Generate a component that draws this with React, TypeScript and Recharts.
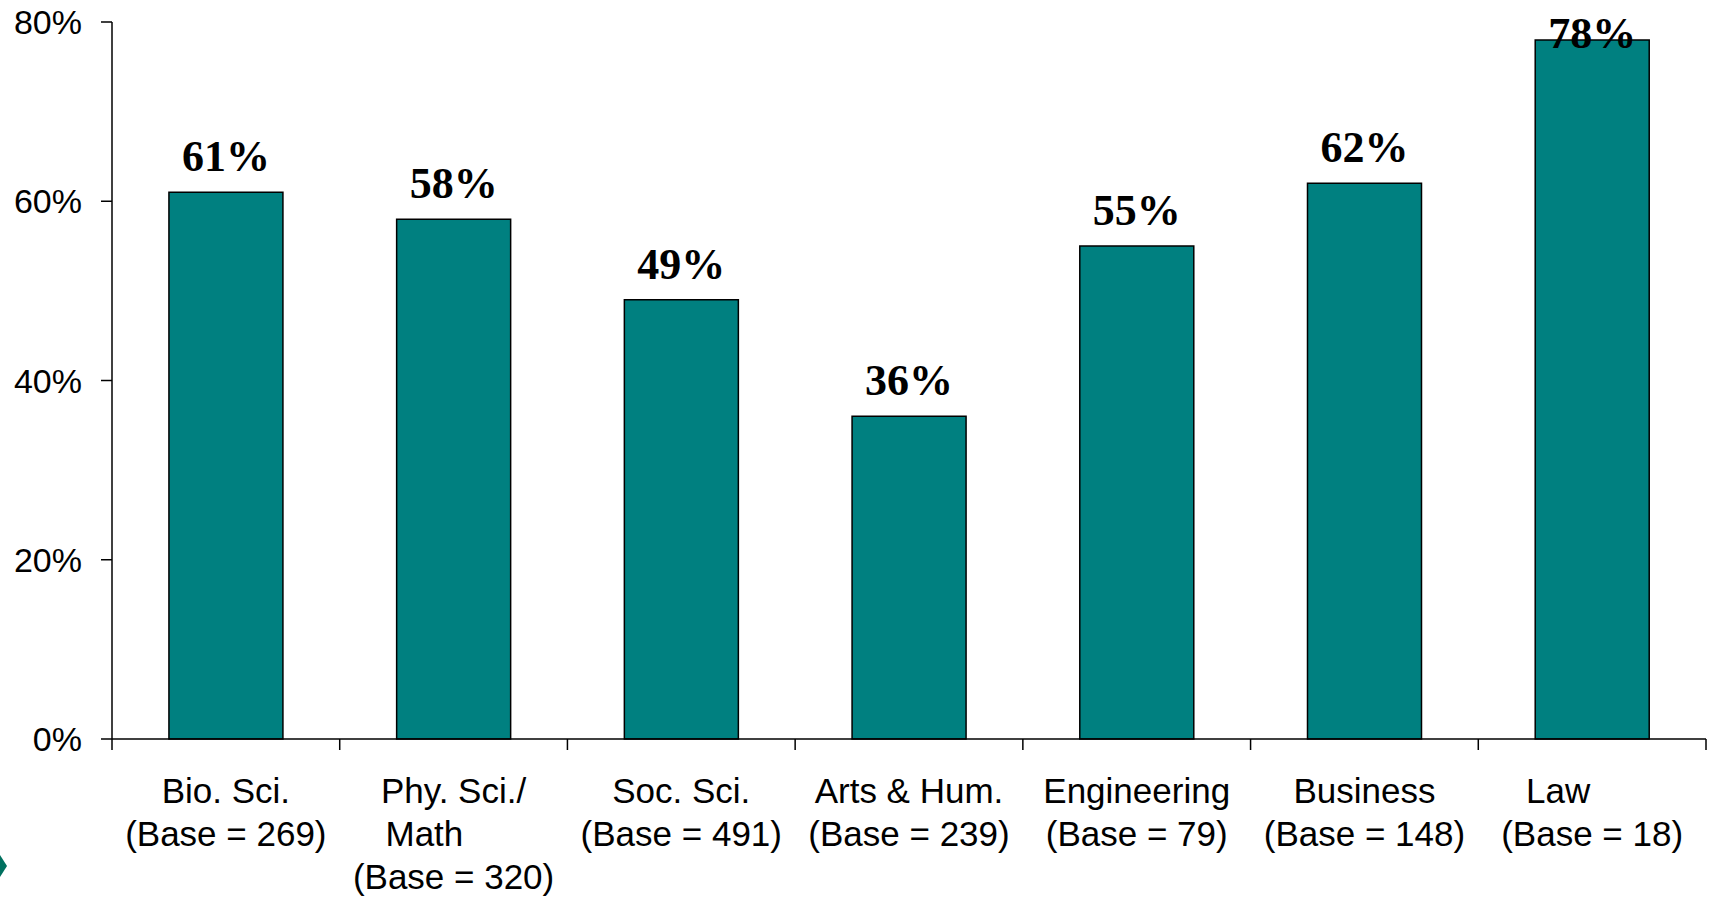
import React from 'react';
import { BarChart, Bar, XAxis, YAxis, LabelList } from 'recharts';

// Share of respondents by field of study
const categories = ['Bio. Sci.', 'Phy. Sci./', 'Soc. Sci.', 'Arts & Hum.', 'Engineering', 'Business', 'Law'];
const extraLines = [[], ['Math      '], [], [], [], [], []];
const bases = [269, 320, 491, 239, 79, 148, 18];
const percentages = [61, 58, 49, 36, 55, 62, 78];
const yTicks = [0, 20, 40, 60, 80];

const data = categories.map((name, i) => ({
  name,
  lines: [i === 6 ? name + '       ' : name, ...extraLines[i], `(Base = ${bases[i]})`],
  value: percentages[i],
}));

const SANS = '"Liberation Sans", Arial, sans-serif';
const SERIF = '"Liberation Serif", "Times New Roman", serif';

const CategoryTick = ({ x, y, payload, index }: any) => {
  const half = payload?.offset ?? 0;
  const item = data[index];
  return (
    <g>
      <line x1={x - half} x2={x - half} y1={y} y2={y + 11} stroke="#000" strokeWidth={1.5} />
      {index === data.length - 1 && (
        <line x1={x + half} x2={x + half} y1={y} y2={y + 11} stroke="#000" strokeWidth={1.5} />
      )}
      <text textAnchor="middle" fontFamily={SANS} fontSize={35} fill="#000" xmlSpace="preserve">
        {item.lines.map((line, i) => (
          <tspan key={i} x={x} y={y + 64 + i * 43} style={{ whiteSpace: 'pre' }}>
            {line}
          </tspan>
        ))}
      </text>
    </g>
  );
};

const ValueLabel = ({ x, y, width, value }: any) => {
  // keep the label inside the plot when the bar nearly reaches the top
  const baseline = Math.max(y - 21, 48);
  return (
    <text
      x={x + width / 2}
      y={baseline}
      textAnchor="middle"
      fontFamily={SERIF}
      fontWeight="bold"
      fontSize={44}
      fill="#000"
    >
      {`${value}%`}
    </text>
  );
};

export default function App() {
  return (
    <div style={{ position: 'absolute', left: 0, top: 0, width: 1713, height: 898, background: '#fff' }}>
      <BarChart
        width={1713}
        height={898}
        data={data}
        margin={{ top: 22, right: 7, left: 0, bottom: 0 }}
        barCategoryGap="25%"
      >
        <XAxis
          dataKey="name"
          height={159}
          interval={0}
          tickLine={false}
          tickSize={0}
          tickMargin={0}
          axisLine={{ stroke: '#000', strokeWidth: 1.5 }}
          tick={<CategoryTick />}
        />
        <YAxis
          width={112}
          domain={[0, 80]}
          ticks={yTicks}
          tickFormatter={(v) => `${v}%`}
          tickSize={11}
          tickMargin={19}
          axisLine={{ stroke: '#000', strokeWidth: 1.5 }}
          tickLine={{ stroke: '#000', strokeWidth: 1.5 }}
          tick={{ fontFamily: SANS, fontSize: 34, fill: '#000' }}
        />
        <Bar dataKey="value" fill="#008080" stroke="#000" strokeWidth={1.5} isAnimationActive={false}>
          <LabelList dataKey="value" content={<ValueLabel />} />
        </Bar>
      </BarChart>
      <svg width={20} height={898} style={{ position: 'absolute', left: 0, top: 0 }}>
        <polygon points="-11,866 0,855 7,866 0,877" fill="#00705f" />
      </svg>
    </div>
  );
}
